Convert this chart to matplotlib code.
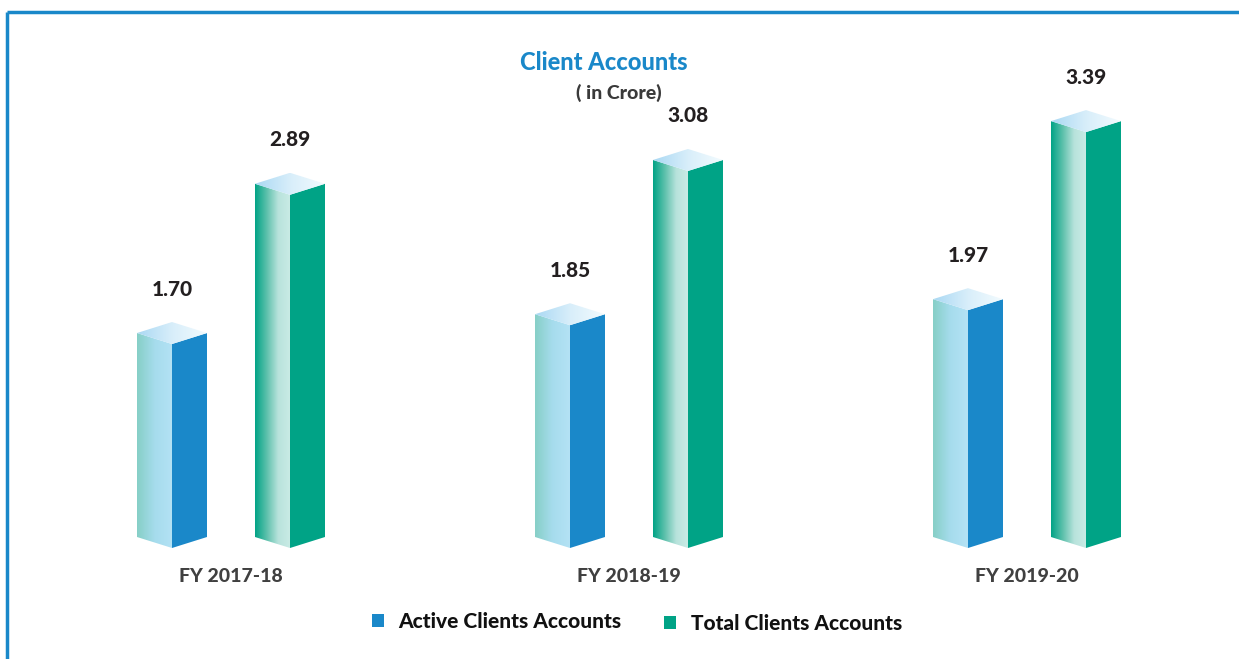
import numpy as np
import matplotlib
matplotlib.use("Agg")
import matplotlib.pyplot as plt
from matplotlib.patches import Polygon
from matplotlib.colors import LinearSegmentedColormap
from matplotlib.lines import Line2D

plt.rcParams['font.family'] = ['Lato', 'DejaVu Sans']

categories = ["FY 2017-18", "FY 2018-19", "FY 2019-20"]
active = [1.70, 1.85, 1.97]
total = [2.89, 3.08, 3.39]
series_names = ["Active Clients Accounts", "Total Clients Accounts"]

BLUE = "#1a88c9"
GREEN = "#00a386"
WEIGHT = 900

W, H = 1239, 659
fig = plt.figure(figsize=(W / 100, H / 100), dpi=100)
ax = fig.add_axes([0, 0, 1, 1])
# x: group index; y: value (crore)
px_per_x = 398.0
px_per_y = 125.4
x0_px = 231.0
y0_px = 557.2
ax.set_xlim((0 - x0_px) / px_per_x, (W - x0_px) / px_per_x)
ax.set_ylim((y0_px - H) / px_per_y, y0_px / px_per_y)
ax.axis('off')

hw = 35 / px_per_x      # face width
dd = 11 / px_per_y      # perspective vertical offset
off = 59 / px_per_x     # offset of each bar from group centre
base = 9.2 / px_per_y   # floor level of the bars

cm_active_left = LinearSegmentedColormap.from_list("al", ["#86cfc6", "#a6dced", "#b4e2f5"])
cm_total_left = LinearSegmentedColormap.from_list("tl", ["#00a386", "#5cc0ab", "#b8e3dc", "#c9ebe5"])
cm_top = LinearSegmentedColormap.from_list("tp", ["#a9d8f3", "#d8eefa", "#f3fbfe"])


def gradient_fill(ax, poly_xy, cmap, xmin, xmax, ymin, ymax):
    poly = Polygon(poly_xy, closed=True, facecolor='none', edgecolor='none')
    ax.add_patch(poly)
    grad = np.linspace(0, 1, 256).reshape(1, -1)
    im = ax.imshow(grad, cmap=cmap, extent=[xmin, xmax, ymin, ymax],
                   aspect='auto', interpolation='bicubic', zorder=2)
    im.set_clip_path(poly)


def bar3d(ax, fx, v, left_cmap, right_color):
    left = [(fx - hw, base + dd), (fx, base), (fx, v), (fx - hw, v + dd)]
    gradient_fill(ax, left, left_cmap, fx - hw, fx, base, v + dd)
    right = [(fx, base), (fx + hw, base + dd), (fx + hw, v + dd), (fx, v)]
    ax.add_patch(Polygon(right, closed=True, facecolor=right_color, edgecolor='none', zorder=2))
    top = [(fx, v), (fx - hw, v + dd), (fx, v + 2 * dd), (fx + hw, v + dd)]
    gradient_fill(ax, top, cm_top, fx - hw, fx + hw, v, v + 2 * dd)


def px2data(xp, yp):
    return ((xp - x0_px) / px_per_x, (y0_px - yp) / px_per_y)


label_gap = 33 / px_per_y
for i, cat in enumerate(categories):
    fa = i - off
    ft = i + off
    bar3d(ax, fa, active[i], cm_active_left, BLUE)
    bar3d(ax, ft, total[i], cm_total_left, GREEN)
    ax.text(fa, active[i] + 2 * dd + label_gap, f"{active[i]:.2f}",
            ha='center', va='center', fontsize=15, fontweight=WEIGHT, color='#231f20')
    ax.text(ft, total[i] + 2 * dd + label_gap, f"{total[i]:.2f}",
            ha='center', va='center', fontsize=15, fontweight=WEIGHT, color='#231f20')
    ax.text(i, px2data(0, 576)[1], cat, ha='center', va='center',
            fontsize=14, fontweight=WEIGHT, color='#404040')

ax.text(*px2data(604, 62), "Client Accounts", ha='center', va='center',
        fontsize=17, fontweight=WEIGHT, color=BLUE)
ax.text(*px2data(619, 93), "( in Crore)", ha='center', va='center',
        fontsize=14, fontweight=WEIGHT, color='#3a3a3a')

for (xs, xt, yy, name, col) in [(378, 398, 621, series_names[0], BLUE),
                                  (670, 691, 623, series_names[1], GREEN)]:
    ax.add_patch(Polygon([px2data(xs - 6, yy - 7), px2data(xs + 6, yy - 7),
                          px2data(xs + 6, yy + 6), px2data(xs - 6, yy + 6)],
                         closed=True, facecolor=col, edgecolor='none'))
    ax.text(*px2data(xt, yy), name, ha='left', va='center',
            fontsize=15, fontweight=WEIGHT, color='#111111')

fig.add_artist(Line2D([7 / W, 1], [1 - 12 / H, 1 - 12 / H], transform=fig.transFigure,
                      color=BLUE, lw=2.5, solid_capstyle='butt'))
fig.add_artist(Line2D([7 / W, 7 / W], [0, 1 - 12 / H], transform=fig.transFigure,
                      color=BLUE, lw=2.5, solid_capstyle='butt'))

fig.savefig("out.png", dpi=100)
